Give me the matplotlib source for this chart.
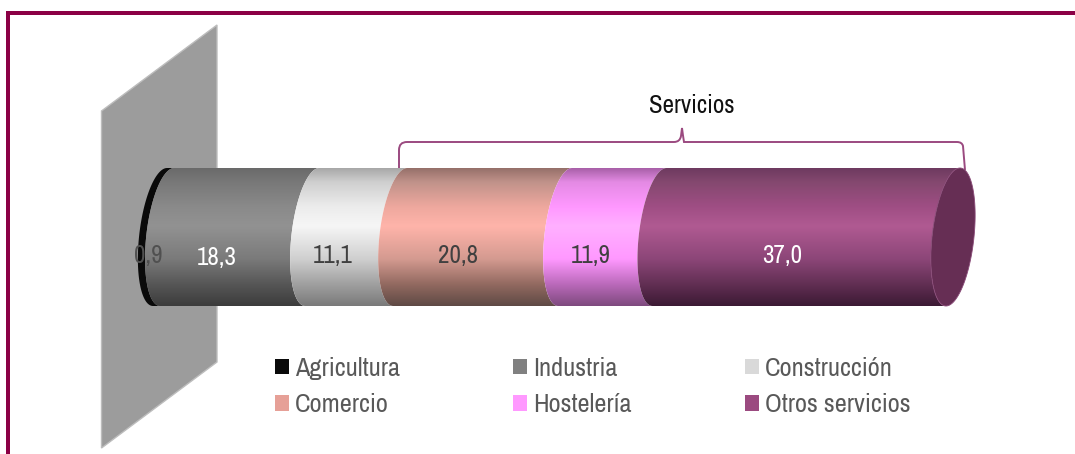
import numpy as np
import matplotlib
matplotlib.use("Agg")
import matplotlib.pyplot as plt
from matplotlib.colors import to_rgb
from matplotlib.patches import Patch, Polygon, Rectangle, PathPatch
from matplotlib.path import Path

plt.rcParams['font.family'] = ['Archivo Narrow', 'Liberation Sans', 'DejaVu Sans']

categories = ["Agricultura", "Industria", "Construcción", "Comercio", "Hostelería", "Otros servicios"]
values = [0.9, 18.3, 11.1, 20.8, 11.9, 37.0]
value_labels = ["0,9", "18,3", "11,1", "20,8", "11,9", "37,0"]
legend_colors = ["#0a0a0a", "#808080", "#d9d9d9", "#e6a097", "#ff99ff", "#9b4a80"]
label_colors = ["#505050", "#ffffff", "#404040", "#404040", "#404040", "#ffffff"]
bracket_label = "Servicios"

shade_pos = [0, .1, .28, .42, .66, .85, 1]
shade_cols = [
    ["#0a0a0a"] * 7,
    ["#6a6a6a", "#787878", "#8a8a8a", "#929292", "#7a7a7a", "#555555", "#3c3c3c"],
    ["#a8a8a8", "#cfcfcf", "#ececec", "#f6f6f6", "#cfcfcf", "#9e9e9e", "#7a7a7a"],
    ["#96706a", "#c0928a", "#eea89e", "#ffb4aa", "#d49a90", "#90685f", "#5f4a45"],
    ["#a860a8", "#e48ae4", "#ff98ff", "#ffb0ff", "#ff98ff", "#b868b8", "#7e4a7e"],
    ["#6e3a60", "#84486f", "#9f4e84", "#b05a92", "#8c4678", "#602e52", "#3c1a34"],
]

W, H = 1075, 454
PX_PER_UNIT = 7.93
X0_PX = 138
FS = 18
LEG_FS = 19
fig = plt.figure(figsize=(W / 100, H / 100), dpi=100, facecolor="white")

# Pixel-space layer for wall, frame and bracket
deco = fig.add_axes([0, 0, 1, 1], zorder=0)
deco.set_xlim(0, W)
deco.set_ylim(H, 0)
deco.axis("off")
deco.add_patch(Polygon([(101.5, 111), (217, 25), (217, 362), (101.5, 448)], closed=True,
                       facecolor="#9c9c9c", edgecolor="#bdbdbd", lw=1))
frame = "#8b0045"
deco.add_patch(Rectangle((6, 11), W, 4, facecolor=frame, edgecolor="none"))
deco.add_patch(Rectangle((6, 11), 4, H, facecolor=frame, edgecolor="none"))

brace = "#9b4a80"
bv = [(399, 169), (399, 150), (399, 142), (407, 142), (674, 142), (680, 142), (681, 136), (682, 128),
      (683, 136), (684, 142), (690, 142), (957, 142), (962, 142), (963, 146), (965, 170)]
bc = [Path.MOVETO, Path.LINETO, Path.CURVE3, Path.CURVE3, Path.LINETO, Path.CURVE3, Path.CURVE3, Path.LINETO,
      Path.CURVE3, Path.CURVE3, Path.LINETO, Path.LINETO, Path.CURVE3, Path.CURVE3, Path.LINETO]
deco.add_patch(PathPatch(Path(bv, bc), facecolor="none", edgecolor=brace, lw=1.4))
deco.text(692, 105.5, bracket_label, ha="center", va="center", fontsize=FS, color="#111111")

# Data layer: x is in percent, y stays in pixels
ax = fig.add_axes([0, 0, 1, 1], zorder=1)
ax.patch.set_alpha(0)
xlim = (-X0_PX / PX_PER_UNIT, (W - X0_PX) / PX_PER_UNIT)
ax.axis("off")

TOP, BOT = 168, 306
CY = (TOP + BOT) / 2
B = (BOT - TOP) / 2
A = 21 / PX_PER_UNIT
S = 7 / PX_PER_UNIT
OFF = 22 / PX_PER_UNIT


def ellipse(v, t):
    cx = v + OFF
    return cx + A * np.cos(t) + S * np.sin(t), CY - B * np.sin(t)


t_left = np.linspace(np.pi / 2, 3 * np.pi / 2, 80)
yy = np.linspace(0, 1, 256)
edges = np.concatenate([[0], np.cumsum(values)])
for i, (name, val) in enumerate(zip(categories, values)):
    xa, ya = ellipse(edges[i], t_left)
    xb, yb = ellipse(edges[i + 1], t_left[::-1])
    poly = Polygon(np.column_stack([np.r_[xa, xb], np.r_[ya, yb]]), closed=True,
                   facecolor="none", edgecolor="none", transform=ax.transData)
    ax.add_patch(poly)
    stops = np.array([to_rgb(c) for c in shade_cols[i]])
    img = np.stack([np.interp(yy, shade_pos, stops[:, k]) for k in range(3)], axis=1)[:, None, :]
    im = ax.imshow(img, extent=[xa.min() - 1, xb.max() + 1, BOT, TOP], aspect="auto",
                   interpolation="bilinear", zorder=2 + i)
    im.set_clip_path(poly)

tc = np.linspace(0, 2 * np.pi, 200)
xc, yc = ellipse(edges[-1], tc)
ax.add_patch(Polygon(np.column_stack([xc, yc]), closed=True, facecolor="#662e54",
                     edgecolor="#8a4a78", lw=0.6, zorder=10))

LABEL_SHIFT = [0.9, -0.1, -0.2, -0.3, 0, -0.3]
LABEL_Y = [255, 257, 255, 255, 255, 255]
for i, lab in enumerate(value_labels):
    ax.text(edges[i] + values[i] / 2 + LABEL_SHIFT[i], LABEL_Y[i], lab, ha="center", va="center",
            fontsize=FS, color=label_colors[i], zorder=12)

ax.set_xlim(*xlim)
ax.set_ylim(H, 0)

# Legend, row-wise order via column-first handles
order = [0, 3, 1, 4, 2, 5]
handles = [Patch(facecolor=legend_colors[k], edgecolor="none", label=categories[k]) for k in order]
leg = ax.legend(handles=handles, ncol=3, loc="upper left", bbox_to_anchor=(275 / W, 1 - 357 / H),
                bbox_transform=fig.transFigure, frameon=False, fontsize=LEG_FS,
                handlelength=0.53, handleheight=0.53, handletextpad=0.22, labelspacing=0.5,
                columnspacing=4.3, borderpad=0, borderaxespad=0, labelcolor="#595959")
leg.set_zorder(20)

fig.savefig("out.png", dpi=100)
